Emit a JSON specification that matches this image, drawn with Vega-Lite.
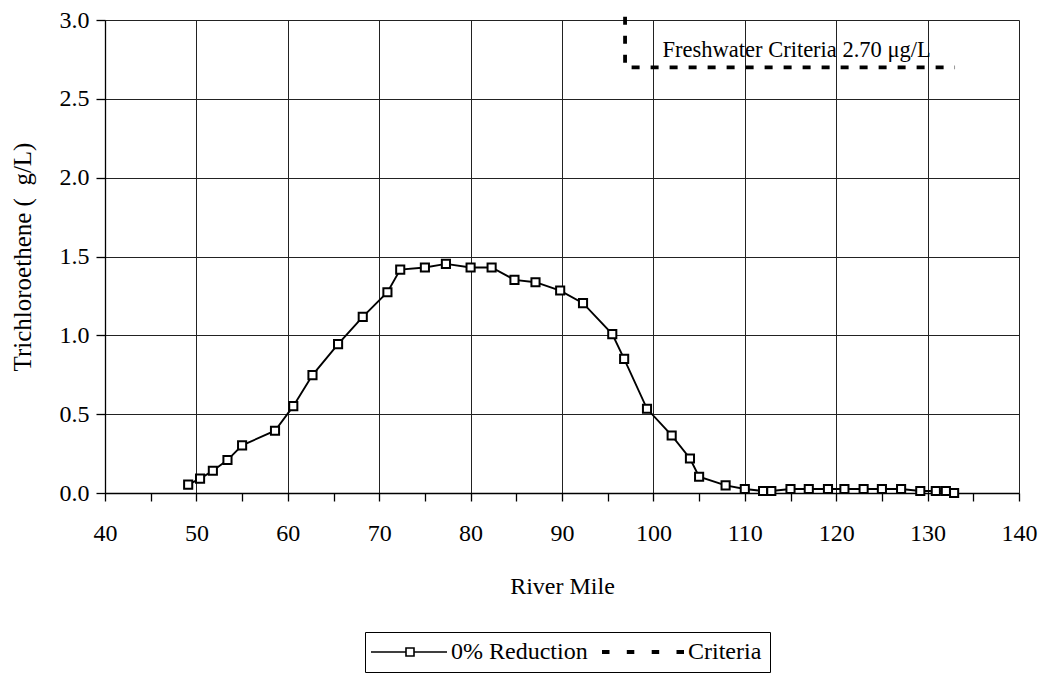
{
  "$schema": "https://vega.github.io/schema/vega-lite/v6.json",
  "width": 914,
  "height": 473,
  "autosize": {"type": "none"},
  "padding": {"left": 105, "top": 20, "right": 28, "bottom": 184},
  "background": "white",
  "config": {
    "view": {"stroke": null},
    "font": "Liberation Serif",
    "axis": {
      "labelFont": "Liberation Serif",
      "labelFontSize": 24,
      "labelColor": "black",
      "titleFont": "Liberation Serif",
      "titleFontSize": 24,
      "titleFontWeight": "normal",
      "titleColor": "black",
      "domainColor": "black",
      "domainWidth": 1.3,
      "tickColor": "black",
      "tickWidth": 1.3,
      "gridColor": "#222222",
      "gridWidth": 1,
      "labelOverlap": false,
      "labelFlush": false
    }
  },
  "datasets": {
    "series": [
      {"mile": 49.1, "value": 0.053},
      {"mile": 50.4, "value": 0.091},
      {"mile": 51.8, "value": 0.141},
      {"mile": 53.4, "value": 0.209},
      {"mile": 55.0, "value": 0.302},
      {"mile": 58.6, "value": 0.395},
      {"mile": 60.6, "value": 0.551},
      {"mile": 62.7, "value": 0.748},
      {"mile": 65.5, "value": 0.944},
      {"mile": 68.2, "value": 1.117},
      {"mile": 70.9, "value": 1.273},
      {"mile": 72.3, "value": 1.417},
      {"mile": 75.0, "value": 1.430},
      {"mile": 77.3, "value": 1.453},
      {"mile": 80.0, "value": 1.430},
      {"mile": 82.3, "value": 1.430},
      {"mile": 84.8, "value": 1.352},
      {"mile": 87.1, "value": 1.337},
      {"mile": 89.8, "value": 1.284},
      {"mile": 92.3, "value": 1.204},
      {"mile": 95.5, "value": 1.008},
      {"mile": 96.8, "value": 0.851},
      {"mile": 99.3, "value": 0.534},
      {"mile": 102.0, "value": 0.365},
      {"mile": 104.0, "value": 0.219},
      {"mile": 105.0, "value": 0.103},
      {"mile": 107.9, "value": 0.048},
      {"mile": 110.0, "value": 0.025},
      {"mile": 112.0, "value": 0.013},
      {"mile": 112.9, "value": 0.013},
      {"mile": 115.0, "value": 0.025},
      {"mile": 117.0, "value": 0.025},
      {"mile": 119.1, "value": 0.025},
      {"mile": 120.9, "value": 0.025},
      {"mile": 123.0, "value": 0.025},
      {"mile": 125.0, "value": 0.025},
      {"mile": 127.1, "value": 0.025},
      {"mile": 129.2, "value": 0.013},
      {"mile": 130.9, "value": 0.013},
      {"mile": 132.0, "value": 0.013},
      {"mile": 132.9, "value": 0.0}
    ],
    "criteria": [
      {"seq": 1, "mile": 96.9, "value": 3.02},
      {"seq": 2, "mile": 96.9, "value": 2.7},
      {"seq": 3, "mile": 133.0, "value": 2.7}
    ],
    "note": [
      {"mile": 101.0, "value": 2.81, "label": "Freshwater Criteria 2.70 μg/L"}
    ],
    "legendrows": [
      {"series": "0% Reduction"},
      {"series": "Criteria"}
    ]
  },
  "layer": [
    {
      "data": {"name": "series"},
      "mark": {"type": "line", "color": "black", "strokeWidth": 1.9},
      "encoding": {
        "x": {
          "field": "mile", "type": "quantitative", "title": "River Mile",
          "scale": {"domain": [40, 140], "nice": false},
          "axis": {
            "values": [40, 45, 50, 55, 60, 65, 70, 75, 80, 85, 90, 95, 100, 105, 110, 115, 120, 125, 130, 135, 140],
            "labelExpr": "datum.value % 10 === 0 ? datum.label : ''",
            "tickSize": 8,
            "labelPadding": 20,
            "titlePadding": 29,
            "gridOpacity": {"condition": {"test": "datum.value % 10 === 0", "value": 1}, "value": 0},
            "encode": {
              "ticks": {
                "update": {
                  "y": {"signal": "datum.value % 10 === 0 ? 0 : -6"},
                  "y2": {"signal": "datum.value % 10 === 0 ? 8 : 6"}
                }
              }
            }
          }
        },
        "y": {
          "field": "value", "type": "quantitative", "title": "Trichloroethene (\u00a0\u00a0g/L)",
          "scale": {"domain": [0, 3], "nice": false},
          "axis": {
            "values": [0, 0.25, 0.5, 0.75, 1, 1.25, 1.5, 1.75, 2, 2.25, 2.5, 2.75, 3],
            "labelExpr": "datum.value % 0.5 === 0 ? format(datum.value, '.1f') : ''",
            "tickSize": 9,
            "labelPadding": 7,
            "titlePadding": 24,
            "titleFontSize": 25,
            "gridOpacity": {"condition": {"test": "datum.value % 0.5 === 0", "value": 1}, "value": 0},
            "encode": {
              "ticks": {
                "update": {
                  "x": {"signal": "datum.value % 0.5 === 0 ? 0 : 5"},
                  "x2": {"signal": "datum.value % 0.5 === 0 ? -9 : -5"}
                }
              }
            }
          }
        }
      }
    },
    {
      "data": {"name": "series"},
      "mark": {"type": "point", "shape": "square", "filled": true, "fill": "white", "stroke": "black", "strokeWidth": 2, "size": 66, "opacity": 1},
      "encoding": {
        "x": {"field": "mile", "type": "quantitative", "title": "River Mile"},
        "y": {"field": "value", "type": "quantitative", "title": "Trichloroethene (\u00a0\u00a0g/L)"}
      }
    },
    {
      "data": {"name": "criteria"},
      "mark": {"type": "line", "color": "black", "strokeWidth": 3.8, "strokeDash": [8, 11], "clip": false},
      "encoding": {
        "x": {"field": "mile", "type": "quantitative", "title": "River Mile"},
        "y": {"field": "value", "type": "quantitative", "title": "Trichloroethene (\u00a0\u00a0g/L)"},
        "order": {"field": "seq", "type": "quantitative"}
      }
    },
    {
      "data": {"name": "note"},
      "mark": {"type": "text", "align": "left", "baseline": "middle", "fontSize": 22.5, "font": "Liberation Serif", "color": "black"},
      "encoding": {
        "x": {"field": "mile", "type": "quantitative", "title": "River Mile"},
        "y": {"field": "value", "type": "quantitative", "title": "Trichloroethene (\u00a0\u00a0g/L)"},
        "text": {"field": "label"}
      }
    },
    {
      "data": {"name": "legendrows"},
      "mark": {"type": "point", "opacity": 0},
      "encoding": {
        "shape": {
          "field": "series", "type": "nominal",
          "scale": {
            "domain": ["0% Reduction", "Criteria"],
            "range": [
              "M-1.4,0H2.1M2.9,0H6.2M2.1,-0.4H2.9V0.4H2.1Z",
              "M-2,-0.12H-1.25M-2,0H-1.25M-2,0.12H-1.25M0.48,-0.12H1.23M0.48,0H1.23M0.48,0.12H1.23M2.97,-0.12H3.72M2.97,0H3.72M2.97,0.12H3.72M5.45,-0.12H6.2M5.45,0H6.2M5.45,0.12H6.2"
            ]
          },
          "legend": {
            "title": null,
            "orient": "none",
            "legendX": 260,
            "legendY": 612,
            "direction": "horizontal",
            "columns": 2,
            "strokeColor": "black",
            "padding": 8,
            "labelFont": "Liberation Serif",
            "labelFontSize": 24,
            "labelColor": "black",
            "labelOffset": 54,
            "columnPadding": 10,
            "symbolSize": 400,
            "symbolStrokeColor": "black",
            "symbolStrokeWidth": 1.6,
            "symbolFillColor": "white",
            "symbolOpacity": 1,
            "encode": {
              "symbols": {
                "update": {
                  "opacity": {"value": 1},
                  "fill": {"value": "white"},
                  "stroke": {"value": "black"}
                }
              }
            }
          }
        }
      }
    }
  ]
}
